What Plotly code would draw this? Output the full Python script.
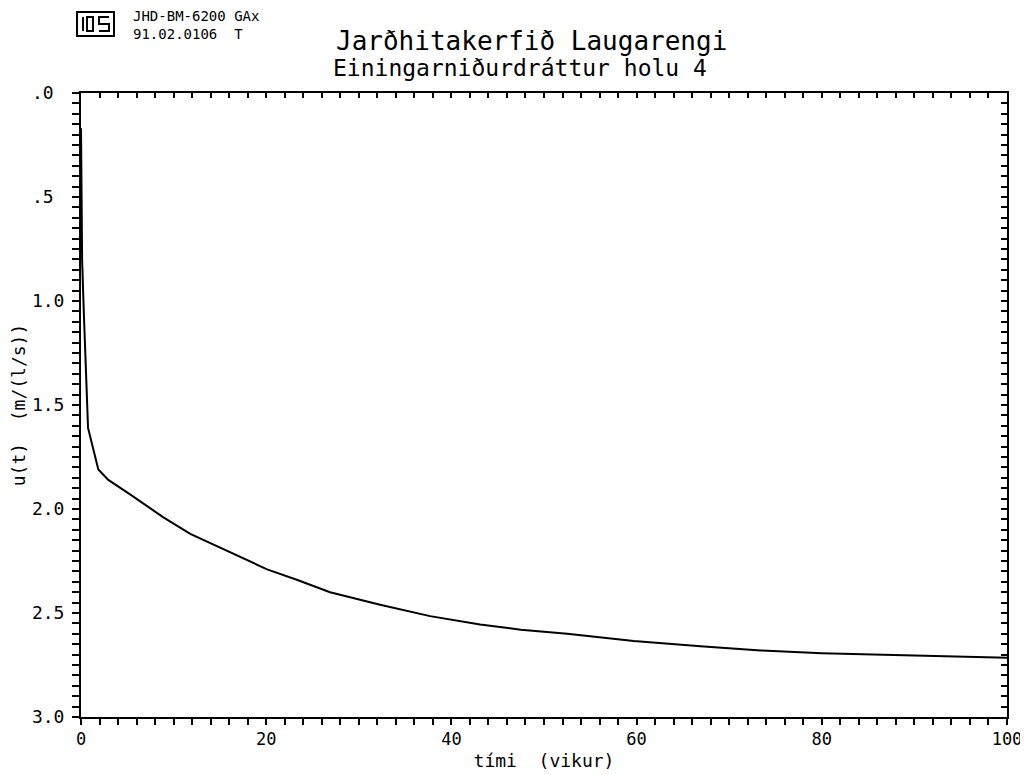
import plotly.graph_objects as go

# ---- data ----
t_weeks = [0, 0.05, 0.12, 0.3, 0.76, 1.87, 2.95, 5.3, 8.9, 11.8, 16.1, 20.1, 23.3,
           26.9, 32.3, 37.7, 43.1, 47.5, 52.5, 59.7, 66.9, 73.4, 80, 90, 100]
u_resp = [0.17, 0.5, 0.8, 1.05, 1.61, 1.81, 1.86, 1.93, 2.04, 2.12, 2.21, 2.29, 2.34,
          2.40, 2.46, 2.515, 2.555, 2.58, 2.60, 2.635, 2.66, 2.68, 2.693, 2.705, 2.715]

y_tickvals = [0, 0.5, 1.0, 1.5, 2.0, 2.5, 3.0]
y_ticktext = [".0", ".5", "1.0", "1.5", "2.0", "2.5", "3.0"]
x_tickvals = [0, 20, 40, 60, 80, 100]
x_ticktext = ["0", "20", "40", "60", "80", "100"]

title_main = "Jarðhitakerfið Laugarengi"
title_sub = "Einingarniðurdráttur holu 4"
header_lines = ["JHD-BM-6200 GAx", "91.02.0106  T"]
x_title = "tími  (vikur)"
y_title = "u(t)  (m/(l/s))"

FONT = "DejaVu Sans Mono"
OFF = 8  # page body margin
W, H = 1028 - OFF, 775 - OFF
# plot area in screen pixels
SL, SR, ST, SB = 81, 1007, 93, 717
L, R, T, B = SL - OFF, SR - OFF, ST - OFF, SB - OFF


def px(x):
    return (x - SL) / (SR - SL)


def py(y):
    return (SB - y) / (SB - ST)


def nb(s):
    return s.replace(" ", "\u00a0")


fig = go.Figure()
fig.add_trace(go.Scatter(x=t_weeks, y=u_resp, mode="lines",
                         line=dict(color="black", width=2), hoverinfo="skip",
                         showlegend=False))
# invisible trace to activate top/right frame axes
fig.add_trace(go.Scatter(x=t_weeks, y=u_resp, mode="lines", xaxis="x2", yaxis="y2",
                         line=dict(color="rgba(0,0,0,0)", width=0), hoverinfo="skip",
                         showlegend=False))

# pad short labels so they are left-aligned like the reference
ylabels = [s + "\u00a0" * (3 - len(s)) for s in y_ticktext]

fig.update_layout(
    width=W, height=H,
    margin=dict(l=L, r=W - R, t=T, b=H - B, pad=0, autoexpand=False),
    paper_bgcolor="white", plot_bgcolor="white",
    font=dict(family=FONT, color="black", size=17),
    xaxis=dict(range=[0, 100], tickvals=x_tickvals, ticktext=x_ticktext,
               ticks="outside", ticklen=6, tickwidth=2, tickcolor="black",
               minor=dict(dtick=2, ticks="outside", ticklen=6, tickwidth=2, tickcolor="black"),
               showline=True, linewidth=2, linecolor="black", showgrid=False, zeroline=False,
               tickfont=dict(size=17, family=FONT), automargin=False,
               title=dict(text=nb(x_title), font=dict(size=18, family=FONT), standoff=6)),
    yaxis=dict(range=[3, 0], tickvals=y_tickvals, ticktext=ylabels,
               ticks="outside", ticklen=7, tickwidth=2, tickcolor="black",
               minor=dict(dtick=0.05, ticks="outside", ticklen=7, tickwidth=2, tickcolor="black"),
               showline=True, linewidth=2, linecolor="black", showgrid=False, zeroline=False,
               tickfont=dict(size=18, family=FONT), ticklabelstandoff=4, automargin=False,
               title=dict(text=nb(y_title), font=dict(size=18, family=FONT), standoff=4)),
    xaxis2=dict(range=[0, 100], overlaying="x", side="top", anchor="y",
                showticklabels=False, ticks="inside", ticklen=5, tickwidth=2,
                tickcolor="black", dtick=2, tick0=0, automargin=False,
                showline=True, linewidth=2, linecolor="black", showgrid=False, zeroline=False),
    yaxis2=dict(range=[3, 0], overlaying="y", side="right", anchor="x",
                showticklabels=False, ticks="inside", ticklen=6, tickwidth=2,
                tickcolor="black", dtick=0.05, tick0=0, automargin=False,
                showline=True, linewidth=2, linecolor="black", showgrid=False, zeroline=False),
)

ann = [
    dict(text=nb(title_main), x=px(531), y=py(41), xanchor="center",
         font=dict(size=26, family=FONT)),
    dict(text=nb(title_sub), x=px(520), y=py(68), xanchor="center",
         font=dict(size=23, family=FONT)),
    dict(text="<br>".join(nb(s) for s in header_lines), x=px(131), y=py(25),
         xanchor="left", align="left", font=dict(size=14, family=FONT)),
]
for a in ann:
    fig.add_annotation(xref="paper", yref="paper", yanchor="middle", showarrow=False, **a)

# logo (outlined box with stylised letters)
line = dict(color="black", width=2)
fig.add_shape(type="rect", xref="paper", yref="paper",
              x0=px(77), x1=px(114), y0=py(36), y1=py(12), line=line)
fig.add_shape(type="rect", xref="paper", yref="paper",
              x0=px(87), x1=px(93), y0=py(31), y1=py(17), line=line)
fig.add_shape(type="line", xref="paper", yref="paper",
              x0=px(83), x1=px(83), y0=py(31), y1=py(17), line=line)
fig.add_shape(type="path", xref="paper", yref="paper",
              path=f"M {px(109)},{py(17)} L {px(99)},{py(17)} L {px(99)},{py(24)} "
                   f"L {px(109)},{py(24)} L {px(109)},{py(31)} L {px(99)},{py(31)}",
              line=line)

fig.write_html("out.html")
